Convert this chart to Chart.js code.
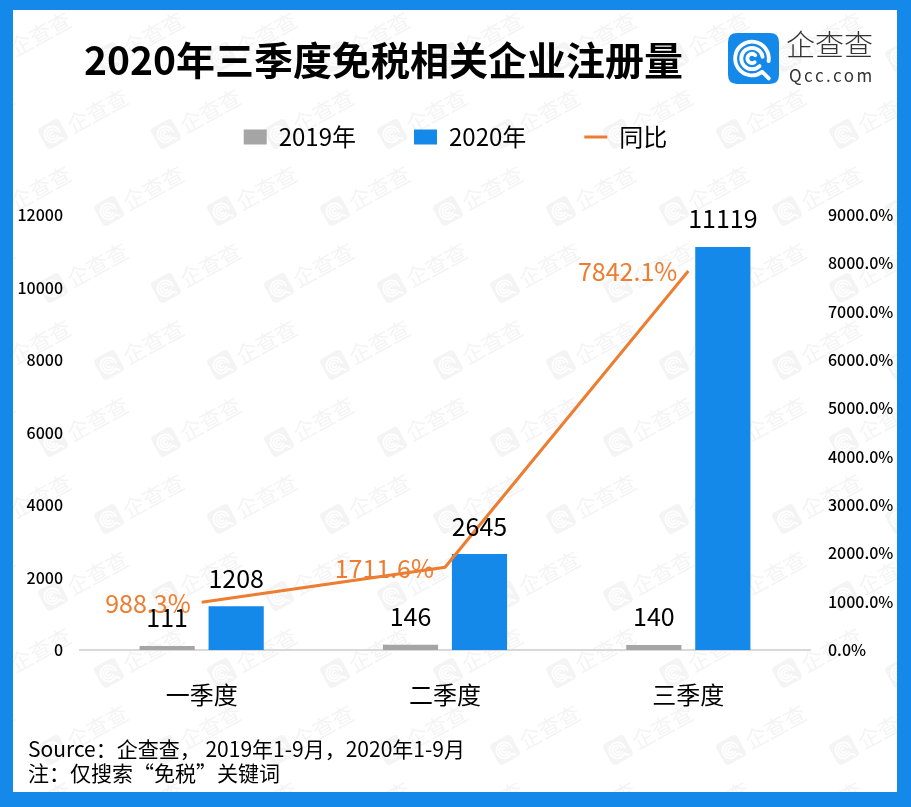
<!DOCTYPE html>
<html>
<head>
<meta charset="utf-8">
<script src="https://cdn.jsdelivr.net/npm/chart.js@4"></script>
<style>
  html, body { margin: 0; padding: 0; background: #ffffff; }
  #wrap { position: absolute; left: 0; top: 0; width: 911px; height: 807px; }
</style>
</head>
<body>
<div id="wrap"><canvas id="c" width="911" height="807"></canvas></div>
<script>
// ---------- data ----------
const categories = ['一季度', '二季度', '三季度'];
const series2019 = [111, 146, 140];
const series2020 = [1208, 2645, 11119];
const yoyPercent = [988.3, 1711.6, 7842.1];
const leftTicks = [0, 2000, 4000, 6000, 8000, 10000, 12000];
const rightTicks = [0, 1000, 2000, 3000, 4000, 5000, 6000, 7000, 8000, 9000];
const seriesNames = ['2019年', '2020年', '同比'];
const titleText = '2020年三季度免税相关企业注册量';
const sourceLines = ['Source：企查查， 2019年1-9月，2020年1-9月', '注：仅搜索“免税”关键词'];

const FONT = "'Noto Sans CJK SC', 'Noto Sans', sans-serif";
const BLUE = '#1589e9';
const GRAY = '#a5a5a5';
const ORANGE = '#ed7d31';

function roundRect(ctx, x, y, w, h, r) {
  ctx.beginPath();
  ctx.moveTo(x + r, y);
  ctx.lineTo(x + w - r, y);
  ctx.quadraticCurveTo(x + w, y, x + w, y + r);
  ctx.lineTo(x + w, y + h - r);
  ctx.quadraticCurveTo(x + w, y + h, x + w - r, y + h);
  ctx.lineTo(x + r, y + h);
  ctx.quadraticCurveTo(x, y + h, x, y + h - r);
  ctx.lineTo(x, y + r);
  ctx.quadraticCurveTo(x, y, x + r, y);
  ctx.closePath();
}

function drawIcon(ctx, x, y, s, bg, fg) {
  ctx.save();
  roundRect(ctx, x, y, s, s, s * 0.18);
  ctx.fillStyle = bg;
  ctx.fill();
  const cx = x + s * 0.47, cy = y + s * 0.5;
  ctx.strokeStyle = fg;
  ctx.lineCap = 'round';
  ctx.lineWidth = s * 0.075;
  ctx.beginPath();
  ctx.arc(cx, cy, s * 0.33, Math.PI * 0.3, Math.PI * 2.05);
  ctx.stroke();
  ctx.beginPath();
  ctx.moveTo(cx + s * 0.2, cy + s * 0.26);
  ctx.lineTo(cx + s * 0.33, cy + s * 0.39);
  ctx.stroke();
  ctx.beginPath();
  ctx.arc(cx, cy, s * 0.21, Math.PI * 0.25, Math.PI * 1.95);
  ctx.stroke();
  ctx.beginPath();
  ctx.arc(cx, cy, s * 0.09, Math.PI * 0.3, Math.PI * 1.75);
  ctx.stroke();
  ctx.restore();
}

const decorPlugin = {
  id: 'decor',
  beforeDraw(chart) {
    const ctx = chart.ctx;
    const W = chart.width, H = chart.height;
    ctx.save();
    ctx.fillStyle = BLUE;
    ctx.fillRect(0, 0, W, H);
    ctx.fillStyle = '#ffffff';
    ctx.fillRect(13, 10, W - 13 - 14, H - 10 - 15);
    // faint watermark grid
    ctx.beginPath();
    ctx.rect(13, 10, W - 27, H - 25);
    ctx.clip();
    const wm = '#f4f4f4';
    let row = 0;
    for (let yy = -20; yy < H + 60; yy += 77, row++) {
      const off = (row % 2) ? 56 : 0;
      for (let xx = -60 + off; xx < W + 60; xx += 113) {
        ctx.save();
        ctx.translate(xx, yy);
        ctx.rotate(-0.5);
        drawIcon(ctx, -12, -12, 24, wm, '#ffffff');
        ctx.fillStyle = wm;
        ctx.font = '22px ' + FONT;
        ctx.textBaseline = 'middle';
        ctx.textAlign = 'left';
        ctx.fillText('企查查', 17, 1);
        ctx.restore();
      }
    }
    ctx.restore();

    ctx.save();
    // title
    ctx.fillStyle = '#000000';
    ctx.font = 'bold 39px ' + FONT;
    ctx.textBaseline = 'middle';
    ctx.textAlign = 'left';
    ctx.fillText(titleText, 84, 60);
    // logo
    drawIcon(ctx, 728, 33, 51, BLUE, '#ffffff');
    ctx.fillStyle = '#333333';
    ctx.font = '300 29px ' + FONT;
    ctx.fillText('企查查', 786, 45);
    ctx.font = '17px ' + FONT;
    if ('letterSpacing' in ctx) ctx.letterSpacing = '2.5px';
    ctx.fillText('Qcc.com', 789, 76);
    if ('letterSpacing' in ctx) ctx.letterSpacing = '0px';
    // source notes
    ctx.fillStyle = '#000000';
    ctx.font = '21px ' + FONT;
    ctx.fillText(sourceLines[0], 28, 749);
    ctx.fillText(sourceLines[1], 28, 773);
    ctx.restore();
  },
  afterDatasetsDraw(chart) {
    const ctx = chart.ctx;
    ctx.save();
    ctx.textBaseline = 'middle';
    ctx.font = '25px ' + FONT;
    ctx.fillStyle = '#000000';
    ctx.textAlign = 'center';
    [0, 1].forEach(di => {
      const meta = chart.getDatasetMeta(di);
      const data = chart.data.datasets[di].data;
      meta.data.forEach((el, i) => {
        ctx.fillText(String(data[i]), el.x, el.y - 28);
      });
    });
    const lmeta = chart.getDatasetMeta(2);
    ctx.fillStyle = ORANGE;
    ctx.textAlign = 'right';
    lmeta.data.forEach((el, i) => {
      ctx.fillText(yoyPercent[i].toFixed(1) + '%', el.x - 11, el.y + 1);
    });
    ctx.restore();
  }
};

new Chart(document.getElementById('c'), {
  data: {
    labels: categories,
    datasets: [
      {
        type: 'bar', label: seriesNames[0], data: series2019,
        backgroundColor: GRAY, yAxisID: 'y', order: 2,
        barPercentage: 0.8, categoryPercentage: 0.567, pointStyle: 'rect'
      },
      {
        type: 'bar', label: seriesNames[1], data: series2020,
        backgroundColor: BLUE, yAxisID: 'y', order: 2,
        barPercentage: 0.8, categoryPercentage: 0.567, pointStyle: 'rect'
      },
      {
        type: 'line', label: seriesNames[2], data: yoyPercent,
        borderColor: ORANGE, backgroundColor: ORANGE, borderWidth: 3,
        pointRadius: 0, tension: 0, yAxisID: 'y1', order: 1, pointStyle: 'line'
      }
    ]
  },
  options: {
    responsive: false,
    animation: false,
    layout: { padding: { top: 67, left: 0, right: 0, bottom: 97 } },
    plugins: {
      legend: {
        display: true,
        position: 'top',
        labels: {
          usePointStyle: true,
          pointStyleWidth: 23,
          boxHeight: 15,
          padding: 58,
          color: '#000000',
          font: { family: FONT, size: 24 },
          sort: (a, b) => a.datasetIndex - b.datasetIndex
        }
      },
      subtitle: {
        display: true,
        text: '',
        position: 'top',
        weight: 500,
        font: { size: 10, lineHeight: 1 },
        padding: { top: 0, bottom: 46 }
      },
      title: { display: false },
      tooltip: { enabled: false }
    },
    scales: {
      x: {
        grid: { display: false, drawTicks: false },
        border: { display: true, color: '#d9d9d9', width: 2 },
        ticks: { color: '#000000', font: { family: FONT, size: 24 }, padding: 30 },
        afterFit(s) { s.height = 60; }
      },
      y: {
        position: 'left',
        min: 0, max: 12000,
        grid: { display: false, drawTicks: false },
        border: { display: false },
        afterBuildTicks(s) { s.ticks = leftTicks.map(v => ({ value: v })); },
        ticks: {
          color: '#000000', font: { family: FONT, size: 16, weight: 500 }, padding: 17,
          callback: v => String(v)
        },
        afterFit(s) { s.width = 80; }
      },
      y1: {
        position: 'right',
        min: 0, max: 9000,
        grid: { display: false, drawTicks: false },
        border: { display: false },
        afterBuildTicks(s) { s.ticks = rightTicks.map(v => ({ value: v })); },
        ticks: {
          color: '#000000', font: { family: FONT, size: 16, weight: 500 }, padding: 18,
          callback: v => Number(v).toFixed(1) + '%'
        },
        afterFit(s) { s.width = 101; }
      }
    }
  },
  plugins: [decorPlugin]
});
</script>
</body>
</html>
